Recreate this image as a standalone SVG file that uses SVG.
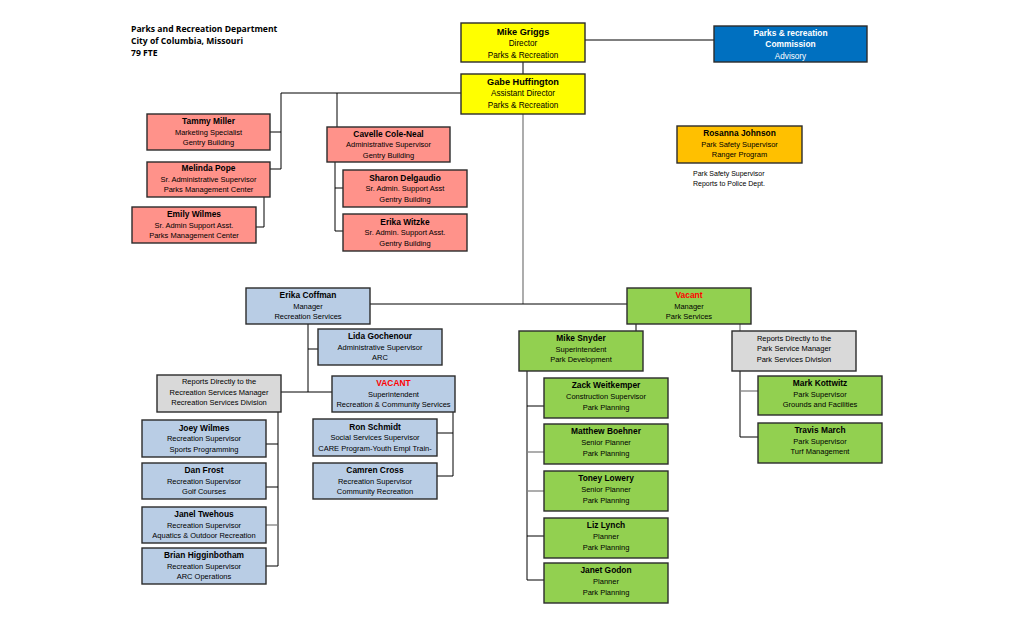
<svg xmlns="http://www.w3.org/2000/svg" width="1020" height="619" viewBox="0 0 1020 619">
<style>
  .bx{stroke:#2b2b2b;stroke-width:1.4}
  .y{fill:#FFFF00}.pk{fill:#FF928A}.bl{fill:#0070C0}.or{fill:#FFC000}.lb{fill:#B9CDE5}.gr{fill:#D9D9D9}.gn{fill:#92D050}
  text{font-family:"Liberation Sans",Arial,sans-serif;text-anchor:middle;fill:#000}
  .nm{font-weight:bold;font-size:8.4px}
  .sb{font-size:7.5px}
  .ynm{font-weight:bold;font-size:9.2px}
  .ysb{font-size:8.2px}
  .red{fill:#FF0000}
  .wh{fill:#fff}
  .ttl{font-family:"Open Sans","Liberation Sans",sans-serif;font-weight:bold;font-size:8.6px;text-anchor:start}
  .note{font-size:7px;text-anchor:start}
  .c{fill:none;stroke:#000;stroke-width:1}
  .cg{fill:none;stroke:#808080;stroke-width:1.3}
</style>
<rect width="1020" height="619" fill="#fff"/>
<g id="title">
  <text class="ttl" x="131" y="31.5">Parks and Recreation Department</text>
  <text class="ttl" x="131" y="43.5">City of Columbia, Missouri</text>
  <text class="ttl" x="131" y="56">79 FTE</text>
</g>
<g id="connectors">
  <path class="c" d="M523 62V74"/>
  <path class="c" d="M585 40H714"/>
  <path class="c" d="M461 93H281V169H270"/>
  <path class="c" d="M281 132H270"/>
  <path class="c" d="M337 93V127"/>
  <path class="c" d="M264 197V227H256"/>
  <path class="c" d="M335 162V231H343"/>
  <path class="c" d="M335 188H343"/>
  <path class="cg" d="M523 114V304"/>
  <path class="c" d="M370 304H627"/>
  <path class="c" d="M308 324V392"/>
  <path class="c" d="M308 349H318"/>
  <path class="c" d="M281 392H332"/>
  <path class="c" d="M278 412V566H266"/>
  <path class="c" d="M278 444H266"/>
  <path class="c" d="M278 487H266"/>
  <path class="cg" d="M278 525H266"/>
  <path class="c" d="M453 412V476H437"/>
  <path class="c" d="M453 433H437"/>
  <path class="c" d="M636 324V331"/>
  <path class="cg" d="M740 324V331"/>
  <path class="c" d="M527 371V580H544"/>
  <path class="c" d="M527 406H544"/>
  <path class="cg" d="M527 452H544"/>
  <path class="cg" d="M527 491H544"/>
  <path class="c" d="M527 536H544"/>
  <path class="c" d="M740 371V437H758"/>
  <path class="cg" d="M740 391H758"/>
</g>
<g id="mike-griggs"><rect class="bx y" x="461" y="23" width="124" height="39"/>
  <text class="ynm" x="523" y="34.5">Mike Griggs</text><text class="ysb" x="523" y="46">Director</text><text class="ysb" x="523" y="57.5">Parks &amp; Recreation</text></g>
<g id="gabe-huffington"><rect class="bx y" x="461" y="74" width="124" height="40"/>
  <text class="ynm" x="523" y="84.5">Gabe Huffington</text><text class="ysb" x="523" y="96">Assistant Director</text><text class="ysb" x="523" y="107.5">Parks &amp; Recreation</text></g>
<g id="commission"><rect class="bx bl" x="714" y="26" width="153" height="36"/>
  <text class="ynm wh" x="790.5" y="35.5" style="font-size:8.4px">Parks &amp; recreation</text><text class="ynm wh" x="790.5" y="47" style="font-size:8.4px">Commission</text><text class="ysb wh" x="790.5" y="58.5">Advisory</text></g>
<g id="tammy-miller"><rect class="bx pk" x="147" y="114" width="123" height="36"/>
  <text class="nm" x="208.5" y="124">Tammy Miller</text><text class="sb" x="208.5" y="134.5">Marketing Specialist</text><text class="sb" x="208.5" y="145">Gentry Building</text></g>
<g id="melinda-pope"><rect class="bx pk" x="147" y="162" width="123" height="35"/>
  <text class="nm" x="208.5" y="171">Melinda Pope</text><text class="sb" x="208.5" y="181.5">Sr. Administrative Supervisor</text><text class="sb" x="208.5" y="192">Parks Management Center</text></g>
<g id="emily-wilmes"><rect class="bx pk" x="132" y="207" width="124" height="36"/>
  <text class="nm" x="194" y="217">Emily Wilmes</text><text class="sb" x="194" y="227.5">Sr. Admin Support Asst.</text><text class="sb" x="194" y="238">Parks Management Center</text></g>
<g id="cavelle-cole-neal"><rect class="bx pk" x="327" y="127" width="123" height="35"/>
  <text class="nm" x="388.5" y="136.5">Cavelle Cole-Neal</text><text class="sb" x="388.5" y="147">Administrative Supervisor</text><text class="sb" x="388.5" y="157.5">Gentry Building</text></g>
<g id="sharon-delgaudio"><rect class="bx pk" x="343" y="170" width="124" height="37"/>
  <text class="nm" x="405" y="180.5">Sharon Delgaudio</text><text class="sb" x="405" y="191">Sr. Admin. Support Asst</text><text class="sb" x="405" y="201.5">Gentry Building</text></g>
<g id="erika-witzke"><rect class="bx pk" x="343" y="214" width="124" height="37"/>
  <text class="nm" x="405" y="224.5">Erika Witzke</text><text class="sb" x="405" y="235">Sr. Admin. Support Asst.</text><text class="sb" x="405" y="245.5">Gentry Building</text></g>
<g id="rosanna-johnson"><rect class="bx or" x="677" y="126" width="125" height="37"/>
  <text class="nm" x="739.5" y="136">Rosanna Johnson</text><text class="sb" x="739.5" y="147">Park Safety Supervisor</text><text class="sb" x="739.5" y="157">Ranger Program</text></g>
<g id="police-note">
  <text class="note" x="693" y="176">Park Safety Supervisor</text>
  <text class="note" x="693" y="185.5">Reports to Police Dept.</text>
</g>
<g id="erika-coffman"><rect class="bx lb" x="246" y="288" width="124" height="36"/>
  <text class="nm" x="308" y="298">Erika Coffman</text><text class="sb" x="308" y="308.5">Manager</text><text class="sb" x="308" y="319">Recreation Services</text></g>
<g id="lida-gochenour"><rect class="bx lb" x="318" y="329" width="124" height="36"/>
  <text class="nm" x="380" y="339">Lida Gochenour</text><text class="sb" x="380" y="349.5">Administrative Supervisor</text><text class="sb" x="380" y="360">ARC</text></g>
<g id="rec-gray"><rect class="bx gr" x="157" y="375" width="124" height="37"/>
  <text class="sb" x="219" y="384">Reports Directly to the</text><text class="sb" x="219" y="394.5">Recreation Services Manager</text><text class="sb" x="219" y="405">Recreation Services Division</text></g>
<g id="vacant-superintendent"><rect class="bx lb" x="332" y="376" width="123" height="36"/>
  <text class="nm red" x="393.5" y="386">VACANT</text><text class="sb" x="393.5" y="396.5">Superintendent</text><text class="sb" x="393.5" y="407">Recreation &amp; Community Services</text></g>
<g id="ron-schmidt"><rect class="bx lb" x="313" y="419" width="124" height="37"/>
  <text class="nm" x="375" y="429.5">Ron Schmidt</text><text class="sb" x="375" y="440">Social Services Supervisor</text><text class="sb" x="375" y="450.5">CARE Program-Youth Empl Train-</text></g>
<g id="camren-cross"><rect class="bx lb" x="313" y="463" width="124" height="36"/>
  <text class="nm" x="375" y="473">Camren Cross</text><text class="sb" x="375" y="483.5">Recreation Supervisor</text><text class="sb" x="375" y="494">Community Recreation</text></g>
<g id="joey-wilmes"><rect class="bx lb" x="142" y="420" width="124" height="37"/>
  <text class="nm" x="204" y="430.5">Joey Wilmes</text><text class="sb" x="204" y="441">Recreation Supervisor</text><text class="sb" x="204" y="451.5">Sports Programming</text></g>
<g id="dan-frost"><rect class="bx lb" x="142" y="463" width="124" height="36"/>
  <text class="nm" x="204" y="473">Dan Frost</text><text class="sb" x="204" y="483.5">Recreation Supervisor</text><text class="sb" x="204" y="494">Golf Courses</text></g>
<g id="janel-twehous"><rect class="bx lb" x="142" y="507" width="124" height="36"/>
  <text class="nm" x="204" y="517">Janel Twehous</text><text class="sb" x="204" y="527.5">Recreation Supervisor</text><text class="sb" x="204" y="538">Aquatics &amp; Outdoor Recreation</text></g>
<g id="brian-higginbotham"><rect class="bx lb" x="142" y="548" width="124" height="36"/>
  <text class="nm" x="204" y="558">Brian Higginbotham</text><text class="sb" x="204" y="568.5">Recreation Supervisor</text><text class="sb" x="204" y="579">ARC Operations</text></g>
<g id="vacant-manager"><rect class="bx gn" x="627" y="288" width="124" height="36"/>
  <text class="nm red" x="689" y="298">Vacant</text><text class="sb" x="689" y="308.5">Manager</text><text class="sb" x="689" y="319">Park Services</text></g>
<g id="mike-snyder"><rect class="bx gn" x="519" y="331" width="124" height="40"/>
  <text class="nm" x="581" y="341">Mike Snyder</text><text class="sb" x="581" y="352">Superintendent</text><text class="sb" x="581" y="362">Park Development</text></g>
<g id="park-gray"><rect class="bx gr" x="732" y="331" width="124" height="40"/>
  <text class="sb" x="794" y="340.5">Reports Directly to the</text><text class="sb" x="794" y="351">Park Service Manager</text><text class="sb" x="794" y="361.5">Park Services Division</text></g>
<g id="zack-weitkemper"><rect class="bx gn" x="544" y="378" width="124" height="40"/>
  <text class="nm" x="606" y="388">Zack Weitkemper</text><text class="sb" x="606" y="399">Construction Supervisor</text><text class="sb" x="606" y="409.5">Park Planning</text></g>
<g id="matthew-boehner"><rect class="bx gn" x="544" y="424" width="124" height="40"/>
  <text class="nm" x="606" y="434">Matthew Boehner</text><text class="sb" x="606" y="445">Senior Planner</text><text class="sb" x="606" y="455.5">Park Planning</text></g>
<g id="toney-lowery"><rect class="bx gn" x="544" y="471" width="124" height="40"/>
  <text class="nm" x="606" y="481">Toney Lowery</text><text class="sb" x="606" y="492">Senior Planner</text><text class="sb" x="606" y="502.5">Park Planning</text></g>
<g id="liz-lynch"><rect class="bx gn" x="544" y="518" width="124" height="40"/>
  <text class="nm" x="606" y="528">Liz Lynch</text><text class="sb" x="606" y="539">Planner</text><text class="sb" x="606" y="549.5">Park Planning</text></g>
<g id="janet-godon"><rect class="bx gn" x="544" y="563" width="124" height="40"/>
  <text class="nm" x="606" y="573">Janet Godon</text><text class="sb" x="606" y="584">Planner</text><text class="sb" x="606" y="594.5">Park Planning</text></g>
<g id="mark-kottwitz"><rect class="bx gn" x="758" y="376" width="124" height="39"/>
  <text class="nm" x="820" y="385.5">Mark Kottwitz</text><text class="sb" x="820" y="396.5">Park Supervisor</text><text class="sb" x="820" y="407">Grounds and Facilities</text></g>
<g id="travis-march"><rect class="bx gn" x="758" y="423" width="124" height="40"/>
  <text class="nm" x="820" y="432.5">Travis March</text><text class="sb" x="820" y="443.5">Park Supervisor</text><text class="sb" x="820" y="454">Turf Management</text></g>
</svg>
